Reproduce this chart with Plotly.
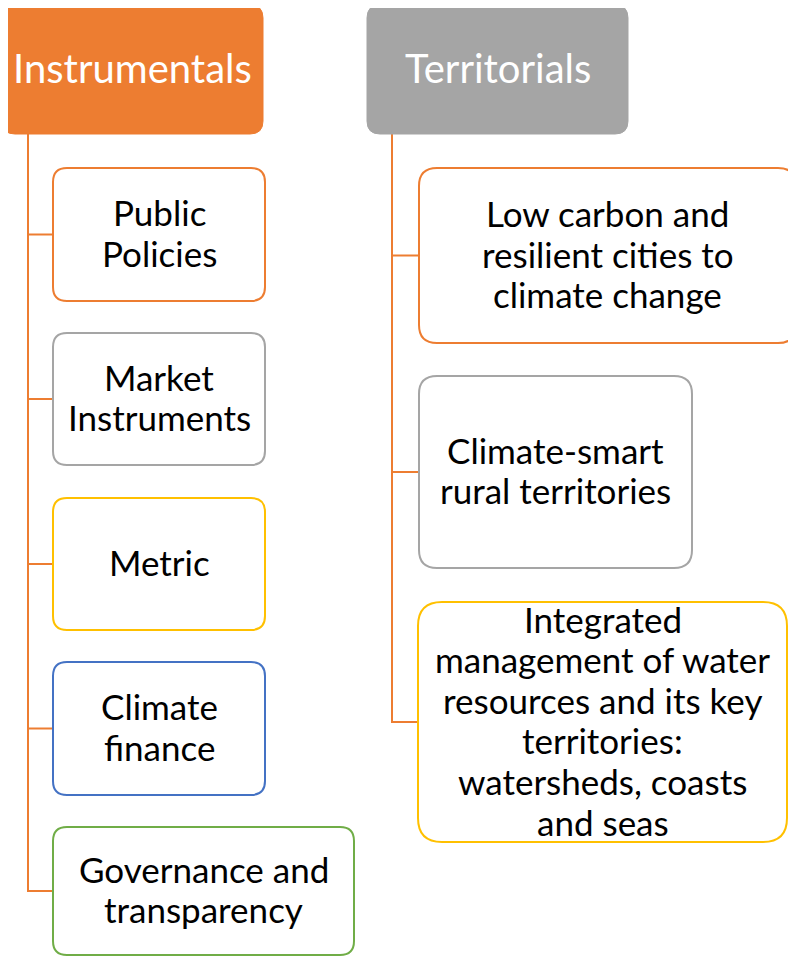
import plotly.graph_objects as go

# ---- content ----
headers = ["Instrumentals", "Territorials"]
left_items = ["Public<br>Policies", "Market<br>Instruments", "Metric",
              "Climate<br>finance", "Governance and<br>transparency"]
right_items = ["Low carbon and<br>resilient cities to<br>climate change",
               "Climate-smart<br>rural territories",
               "Integrated<br>management of water<br>resources and its key<br>territories:<br>watersheds, coasts<br>and seas"]

# ---- layout / style (pixel coords, y downward) ----
W, H = 796, 956
PAGE_OFFSET = 8  # default body margin of the html page
ORANGE, GRAY, YELLOW, BLUE, GREEN = "#ED7D31", "#A5A5A5", "#FFC000", "#4472C4", "#70AD47"
FONT = "Lato"
header_boxes = [(2, 5, 263, 134), (367, 5, 628, 134)]
header_fill = [ORANGE, GRAY]
left_boxes = [(53, 168, 265, 301), (53, 333, 265, 465), (53, 498, 265, 630),
              (53, 662, 265, 795), (53, 827, 354, 955)]
left_colors = [ORANGE, GRAY, YELLOW, BLUE, GREEN]
left_radius = [14, 14, 14, 14, 14]
right_boxes = [(419, 168, 796, 343), (419, 376, 692, 568), (418, 602, 787, 842)]
right_colors = [ORANGE, GRAY, YELLOW]
right_radius = [18, 18, 24]
left_spine_x, right_spine_x = 28, 392
LINE_GAP = 40.6
TEXT_DY = -2
TEXT_SIZE = 35
HEADER_SIZE = 40


def rrect(x0, y0, x1, y1, r):
    return (f"M {x0+r},{y0} L {x1-r},{y0} Q {x1},{y0} {x1},{y0+r} "
            f"L {x1},{y1-r} Q {x1},{y1} {x1-r},{y1} L {x0+r},{y1} "
            f"Q {x0},{y1} {x0},{y1-r} L {x0},{y0+r} Q {x0},{y0} {x0+r},{y0} Z")


shapes = []
annotations = []


def add_text(label, cx, cy, size, color):
    lines = label.split("<br>")
    n = len(lines)
    for i, ln in enumerate(lines):
        y = cy + TEXT_DY + (i - (n - 1) / 2) * LINE_GAP
        annotations.append(dict(x=cx, y=y, xref="x", yref="y", text=ln,
                                showarrow=False, xanchor="center", yanchor="middle",
                                font=dict(family=FONT, size=size, color=color)))


# connectors
for spine_x, boxes, hb in [(left_spine_x, left_boxes, header_boxes[0]),
                           (right_spine_x, right_boxes, header_boxes[1])]:
    last_cy = (boxes[-1][1] + boxes[-1][3]) / 2
    shapes.append(dict(type="line", x0=spine_x, x1=spine_x, y0=hb[3], y1=last_cy,
                       line=dict(color=ORANGE, width=2), layer="below"))
    for b in boxes:
        cy = (b[1] + b[3]) / 2
        shapes.append(dict(type="line", x0=spine_x - 1, x1=b[0], y0=cy, y1=cy,
                           line=dict(color=ORANGE, width=2), layer="below"))

# headers
for (x0, y0, x1, y1), fill, lab in zip(header_boxes, header_fill, headers):
    shapes.append(dict(type="path", path=rrect(x0, y0, x1, y1, 13),
                       fillcolor=fill, line=dict(color=fill, width=1)))
    add_text(lab, (x0 + x1) / 2, (y0 + y1) / 2, HEADER_SIZE, "white")

# child boxes
for boxes, colors, radii, labels in [(left_boxes, left_colors, left_radius, left_items),
                                     (right_boxes, right_colors, right_radius, right_items)]:
    for (x0, y0, x1, y1), c, r, lab in zip(boxes, colors, radii, labels):
        shapes.append(dict(type="path", path=rrect(x0, y0, x1, y1, r),
                           fillcolor="white", line=dict(color=c, width=2)))
        add_text(lab, (x0 + x1) / 2, (y0 + y1) / 2, TEXT_SIZE, "black")

fig = go.Figure()
fig.update_layout(
    width=W, height=H, margin=dict(l=0, r=0, t=0, b=0),
    paper_bgcolor="white", plot_bgcolor="white",
    xaxis=dict(range=[PAGE_OFFSET, W + PAGE_OFFSET], visible=False, fixedrange=True),
    yaxis=dict(range=[H + PAGE_OFFSET, PAGE_OFFSET], visible=False, fixedrange=True),
    shapes=shapes, annotations=annotations, showlegend=False,
)
fig.write_html("out.html")
